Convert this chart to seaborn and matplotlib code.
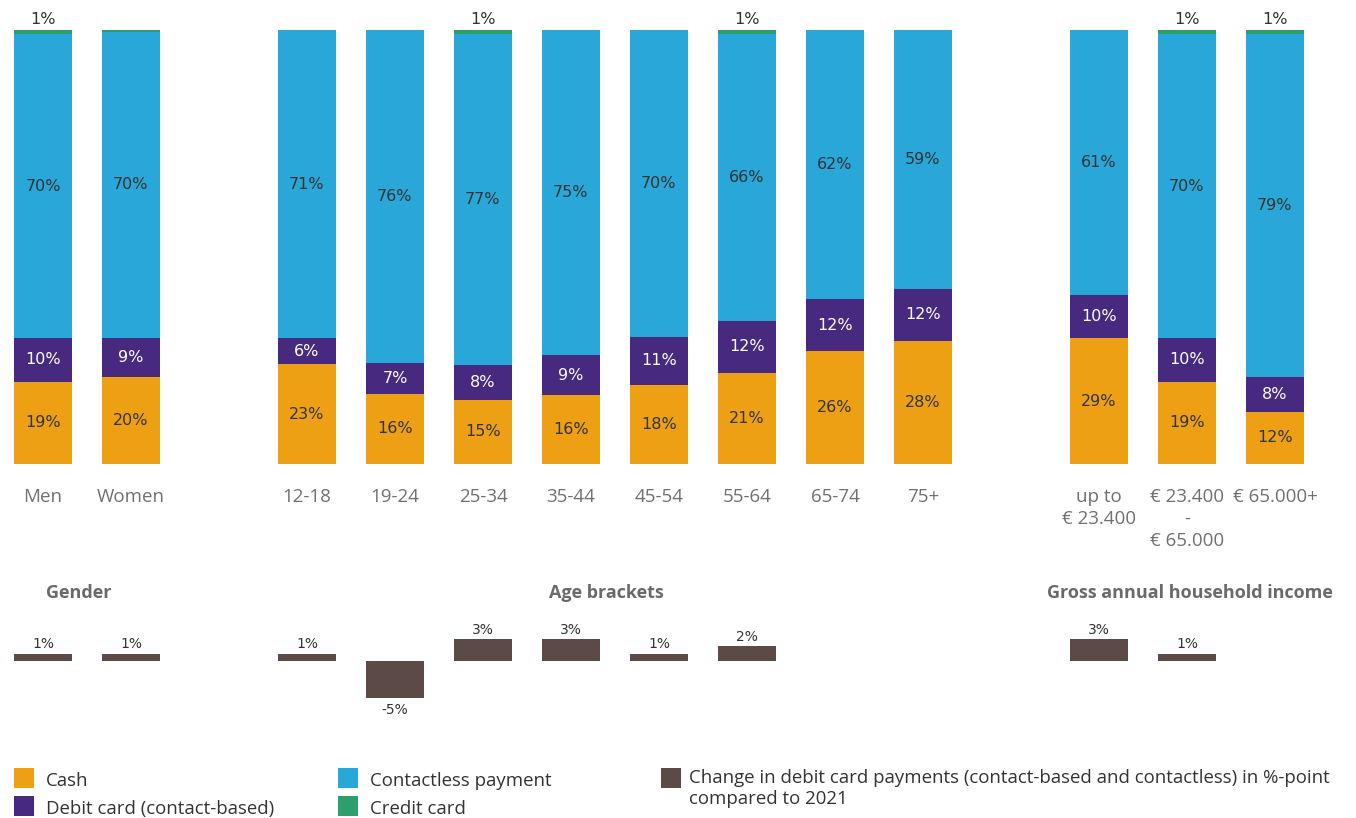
import numpy as np
import pandas as pd
import matplotlib
matplotlib.use("Agg")
import matplotlib.pyplot as plt
from matplotlib.patches import Rectangle
import matplotlib.transforms as mtrans
import seaborn as sns

# ---------------- data ----------------
categories = ["Men", "Women", "12-18", "19-24", "25-34", "35-44", "45-54", "55-64",
              "65-74", "75+", "up to\n€ 23.400", "€ 23.400\n-\n€ 65.000", "€ 65.000+"]
positions = [0, 1, 3, 4, 5, 6, 7, 8, 9, 10, 12, 13, 14]
cash = [19, 20, 23, 16, 15, 16, 18, 21, 26, 28, 29, 19, 12]
debit = [10, 9, 6, 7, 8, 9, 11, 12, 12, 12, 10, 10, 8]
contactless = [70, 70, 71, 76, 77, 75, 70, 66, 62, 59, 61, 70, 79]
credit = [1, 0.5, 0, 0, 1, 0, 0, 1, 0, 0, 0, 1, 1]
credit_labels = ["1%", "", "", "", "1%", "", "", "1%", "", "", "", "1%", "1%"]
change = [1, 1, 1, -5, 3, 3, 1, 2, np.nan, np.nan, 3, 1, np.nan]
groups = ["Gender", "Age brackets", "Gross annual household income"]
group_centers = [0.41, 6.40, 13.03]

C_CASH = "#EEA015"
C_DEBIT = "#472A80"
C_CONT = "#29A7D8"
C_CREDIT = "#2CA06A"
C_CHANGE = "#5C4A47"
TXT = "#333333"
GRAY = "#707070"

df = pd.DataFrame({"pos": positions, "cash": cash, "debit": debit,
                   "contactless": contactless, "credit": credit, "change": change})
# rounded shares -> normalise each bar to 100 %
tot = df[["cash", "debit", "contactless", "credit"]].sum(axis=1)
scale = 100.0 / tot
df["c1"] = df["cash"] * scale
df["c2"] = df["c1"] + df["debit"] * scale
df["c3"] = df["c2"] + df["contactless"] * scale
df["c4"] = df["c3"] + df["credit"] * scale

sns.set_theme(style="white")
plt.rcParams["font.family"] = ["DejaVu Sans"]

W, H = 1356, 818
fig = plt.figure(figsize=(W / 100, H / 100), dpi=100)

def fx(px):
    return px / W

def fy(py):
    return 1 - py / H

slot = 88.0
x0 = 43.0
xlim = (-x0 / slot, (W - x0) / slot)

# ---------------- top stacked bars ----------------
ax = fig.add_axes([0, fy(464), 1, (464 - 30) / H])
bw = 0.65
for col, colr in [("c4", C_CREDIT), ("c3", C_CONT), ("c2", C_DEBIT), ("c1", C_CASH)]:
    sns.barplot(data=df, x="pos", y=col, native_scale=True, color=colr,
                width=bw, errorbar=None, ax=ax, saturation=1, linewidth=0)
ax.set_xlim(*xlim)
ax.set_ylim(0, 100)
for s in ax.spines.values():
    s.set_visible(False)
ax.set_yticks([])
ax.set_ylabel("")
ax.set_xlabel("")
ax.set_xticks(positions)
ax.set_xticklabels(categories, fontsize=13.5, color=GRAY, family="Open Sans",
                   linespacing=1.3)
ax.tick_params(axis="x", length=0, pad=17)

for i, r in df.iterrows():
    ax.text(r.pos, r.c1 / 2, f"{r.cash:.0f}%", ha="center", va="center",
            fontsize=11.5, color=TXT)
    ax.text(r.pos, (r.c1 + r.c2) / 2, f"{r.debit:.0f}%", ha="center",
            va="center", fontsize=11.5, color="white")
    ax.text(r.pos, (r.c2 + r.c3) / 2, f"{r.contactless:.0f}%", ha="center",
            va="center", fontsize=11.5, color=TXT)
    if credit_labels[i]:
        ax.text(r.pos, r.c4 + 0.6, credit_labels[i], ha="center", va="bottom",
                fontsize=11.5, color=TXT, clip_on=False)

# group labels
gtrans = mtrans.blended_transform_factory(ax.transData, fig.transFigure)
for g, cx in zip(groups, group_centers):
    ax.text(cx, fy(593), g, transform=gtrans, ha="center", va="center",
            fontsize=13, fontweight="bold", color="#6a6a6a", family="Open Sans")

# ---------------- change bars ----------------
ax2 = fig.add_axes([0, fy(720), 1, 120 / H])
dfc = df.dropna(subset=["change"])
sns.barplot(data=dfc, x="pos", y="change", native_scale=True, color=C_CHANGE,
            width=bw, errorbar=None, ax=ax2, saturation=1, linewidth=0)
ax2.set_xlim(*xlim)
ax2.set_ylim(-(720 - 661) / 7.3, (661 - 600) / 7.3)
ax2.axis("off")
for _, r in dfc.iterrows():
    v = r.change
    if v >= 0:
        ax2.text(r.pos, v + 0.35, f"{v:.0f}%", ha="center", va="bottom", fontsize=10, color=TXT)
    else:
        ax2.text(r.pos, v - 0.8, f"{v:.0f}%", ha="center", va="top", fontsize=10, color=TXT)

# ---------------- legend ----------------
legend_items = [
    (14, 768, C_CASH, "Cash"),
    (14, 796, C_DEBIT, "Debit card (contact-based)"),
    (338, 768, C_CONT, "Contactless payment"),
    (338, 796, C_CREDIT, "Credit card"),
]
for lx, ly, colr, lab in legend_items:
    fig.add_artist(Rectangle((fx(lx), fy(ly + 20)), 20 / W, 20 / H,
                             transform=fig.transFigure, color=colr, lw=0))
    fig.text(fx(lx + 32), fy(ly + 13), lab, ha="left", va="center",
             fontsize=13.4, color="#333333", family="Open Sans")
fig.add_artist(Rectangle((fx(661), fy(788)), 20 / W, 20 / H,
                         transform=fig.transFigure, color=C_CHANGE, lw=0))
fig.text(fx(689), fy(769),
         "Change in debit card payments (contact-based and contactless) in %-point\ncompared to 2021",
         ha="left", va="top", fontsize=13.4, color="#333333", family="Open Sans",
         linespacing=1.2)

fig.savefig("out.png", dpi=100)
